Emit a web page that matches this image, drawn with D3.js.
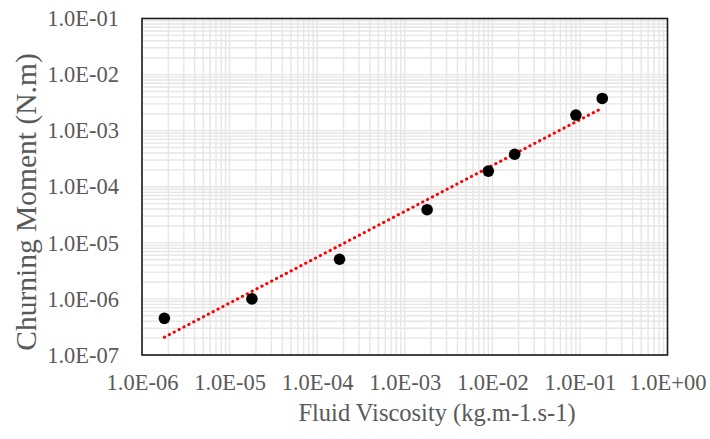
<!DOCTYPE html>
<html>
<head>
<meta charset="utf-8" />
<style>
  body { margin: 0; background: #fff; }
  svg text { font-family: "Liberation Serif", "Times New Roman", serif; fill: #595959; }
</style>
</head>
<body>
<div id="chart"></div>
<script src="https://d3js.org/d3.v7.min.js"></script>
<script>
// viscosity (kg.m-1.s-1) and churning moment (N.m)
const viscosity = [1.8e-6, 1.8e-5, 1.8e-4, 1.8e-3, 9e-3, 1.8e-2, 9e-2, 1.8e-1];
const moment = [4.5e-7, 1.0e-6, 5.1e-6, 3.9e-5, 1.9e-4, 3.8e-4, 1.9e-3, 3.75e-3];
const xTicks = [1e-6, 1e-5, 1e-4, 1e-3, 1e-2, 1e-1, 1e0];
const yTicks = [1e-7, 1e-6, 1e-5, 1e-4, 1e-3, 1e-2, 1e-1];

const width = 710, height = 439;
const plot = {left: 142, right: 667.5, top: 18.5, bottom: 355};

const svg = d3.select("#chart").append("svg")
  .attr("width", width).attr("height", height);

const x = d3.scaleLog().domain([1e-6, 1]).range([plot.left, plot.right]);
const y = d3.scaleLog().domain([1e-7, 1e-1]).range([plot.bottom, plot.top]);

// excel style label 1.0E-06
const fmt = v => {
  let e = Math.round(Math.log10(v));
  let s = Math.abs(e) < 10 ? "0" + Math.abs(e) : "" + Math.abs(e);
  return "1.0E" + (e < 0 ? "-" : "+") + s;
};

// minor + major gridlines
const grid = svg.append("g").attr("stroke", "#e6e6e6").attr("stroke-width", 1.4);
grid.selectAll("line.vx")
  .data(x.ticks().filter(v => v < 1))
  .enter().append("line")
  .attr("x1", d => x(d)).attr("x2", d => x(d))
  .attr("y1", plot.top).attr("y2", plot.bottom);
grid.selectAll("line.hy")
  .data(y.ticks().filter(v => v < 1e-1))
  .enter().append("line")
  .attr("y1", d => y(d)).attr("y2", d => y(d))
  .attr("x1", plot.left).attr("x2", plot.right);

// trendline (power fit, least squares in log-log)
const lx = viscosity.map(Math.log10), ly = moment.map(Math.log10);
const mx = d3.mean(lx), my = d3.mean(ly);
const slope = d3.sum(lx, (v, i) => (v - mx) * (ly[i] - my)) / d3.sum(lx, v => (v - mx) * (v - mx));
const icpt = my - slope * mx;
const trend = d3.extent(viscosity).map(v => [v, Math.pow(10, icpt + slope * Math.log10(v))]);

svg.append("path")
  .datum(trend)
  .attr("d", d3.line().x(d => x(d[0])).y(d => y(d[1])))
  .attr("fill", "none")
  .attr("stroke", "#ff0000")
  .attr("stroke-width", 3)
  .attr("stroke-linecap", "round")
  .attr("stroke-dasharray", "0.3 5.2");

// points
svg.selectAll("circle.pt")
  .data(viscosity)
  .enter().append("circle")
  .attr("cx", d => x(d))
  .attr("cy", (d, i) => y(moment[i]))
  .attr("r", 5.8)
  .attr("fill", "#000");

// plot border
svg.append("rect")
  .attr("x", plot.left).attr("y", plot.top)
  .attr("width", plot.right - plot.left).attr("height", plot.bottom - plot.top)
  .attr("fill", "none").attr("stroke", "#1a1a1a").attr("stroke-width", 1.6);

// axes (labels only)
const xAxis = svg.append("g")
  .attr("transform", `translate(0,${plot.bottom})`)
  .call(d3.axisBottom(x).tickValues(xTicks).tickFormat(fmt).tickSize(0).tickPadding(35));
const yAxis = svg.append("g")
  .attr("transform", `translate(${plot.left},0)`)
  .call(d3.axisLeft(y).tickValues(yTicks).tickFormat(fmt).tickSize(0).tickPadding(23));
[xAxis, yAxis].forEach(a => {
  a.select(".domain").remove();
  a.selectAll("text")
    .style("font-family", '"Liberation Serif", serif')
    .style("font-size", "22.5px")
    .attr("fill", "#595959");
});
xAxis.selectAll("text").attr("dy", "0");

svg.append("text")
  .attr("x", 437).attr("y", 421)
  .attr("text-anchor", "middle")
  .style("font-size", "24.5px")
  .text("Fluid Viscosity (kg.m-1.s-1)");

svg.append("text")
  .attr("transform", "translate(36,202) rotate(-90)")
  .attr("text-anchor", "middle")
  .style("font-size", "29.5px")
  .text("Churning Moment (N.m)");
</script>
</body>
</html>
